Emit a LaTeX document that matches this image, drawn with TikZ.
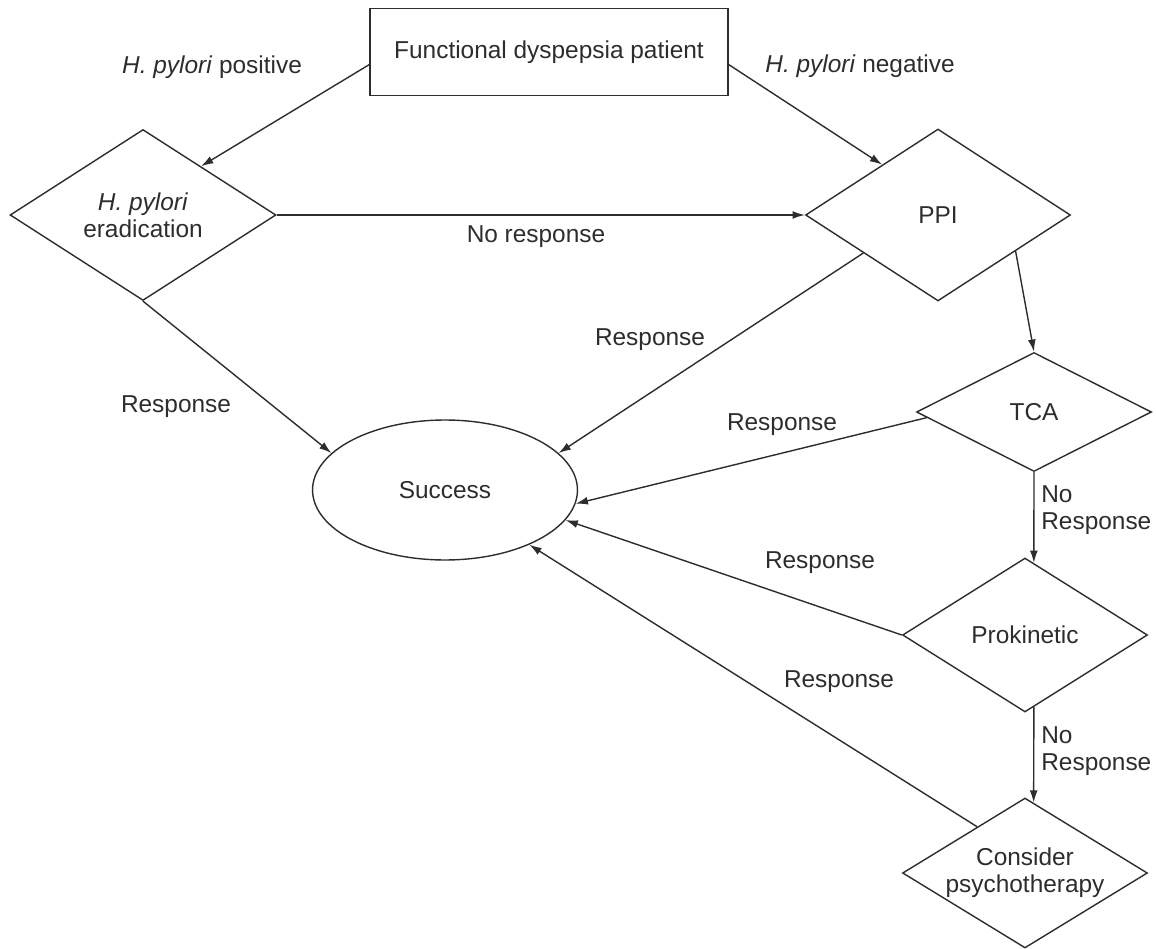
\documentclass[tikz,border=0pt]{standalone}
\usepackage{fontspec}
\setmainfont{Liberation Sans}
\usepackage{tikz}
\usetikzlibrary{shapes.geometric, arrows.meta, positioning, calc}
\definecolor{ink}{RGB}{45, 45, 45}
\tikzstyle{patient} = [rectangle, draw=ink, line width=0.8pt, minimum width=7.16cm, minimum height=1.74cm, inner sep=0pt]
\tikzstyle{decision} = [diamond, draw=ink, line width=0.8pt, inner sep=0pt, align=center]
\tikzstyle{outcome} = [ellipse, draw=ink, line width=0.8pt, minimum width=5.3cm, minimum height=2.8cm, inner sep=0pt]
\tikzstyle{lbl} = [inner sep=0pt, align=left]
\tikzstyle{arrow} = [line width=0.8pt, draw=ink, -{Latex[length=7pt, width=4.5pt]}]

\begin{document}
\begin{tikzpicture}[x=0.02cm, y=-0.02cm, font=\fontsize{13.9}{15.4}\selectfont, text=ink]
    \useasboundingbox (0,0) rectangle (1156,949);

    % Start and outcome
    \node[patient] (patient) at (549,52) {Functional dyspepsia patient};
    \node[outcome] (success) at (445,490) {Success};

    % Treatment steps
    \node[decision, minimum width=5.32cm, minimum height=3.42cm, aspect=1.56] (erad) at (143,215) {\textit{H. pylori}\\eradication};
    \node[decision, minimum width=5.3cm, minimum height=3.44cm, aspect=1.54] (ppi) at (938,215) {PPI};
    \node[decision, minimum width=4.7cm, minimum height=2.38cm, aspect=1.97] (tca) at (1034,412) {TCA};
    \node[decision, minimum width=4.9cm, minimum height=3.08cm, aspect=1.6] (prok) at (1025,635) {Prokinetic};
    \node[decision, minimum width=4.9cm, minimum height=3.0cm, aspect=1.63] (consider) at (1025,873) {Consider\\psychotherapy};

    % Connectors
    \draw[arrow] (patient.184) -- (erad.40);
    \draw[arrow] (patient.356) -- (ppi.138);
    \draw[arrow] (erad.east) -- (ppi.west);
    \draw[arrow] (erad.south) -- (success.162);
    \draw[arrow] (ppi.207) -- (success.18);
    \draw[arrow] (ppi.-25) -- (tca.north);
    \draw[arrow] (tca.183) -- (success.-6);
    \draw[arrow] (tca.south) -- (prok.83);
    \draw[arrow] (prok.west) -- (success.-14);
    \draw[arrow] (prok.-83) -- (consider.83);
    \draw[arrow] (consider.136) -- (success.-33);

    % Labels
    \node[lbl] (pos) at (212,67) {\textit{H. pylori} positive};
    \node[lbl] (neg) at (860,66) {\textit{H. pylori} negative};
    \node[lbl] (nores) at (536,237) {No response};
    \node[lbl] (reserad) at (176,407) {Response};
    \node[lbl] (resppi) at (650,340) {Response};
    \node[lbl] (restca) at (782,425) {Response};
    \node[lbl] (resprok) at (820,563) {Response};
    \node[lbl] (rescons) at (839,682) {Response};
    \node[lbl, anchor=west] (notca) at (1041,510) {No\\Response};
    \node[lbl, anchor=west] (noprok) at (1041,751) {No\\Response};
\end{tikzpicture}
\end{document}
